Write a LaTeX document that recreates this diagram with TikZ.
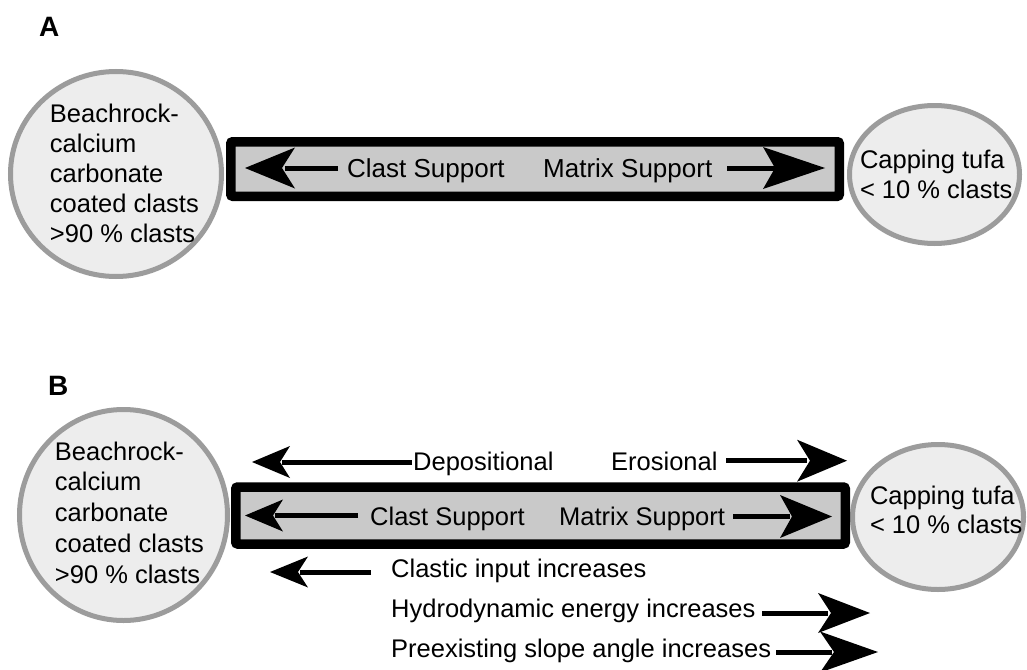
\documentclass[tikz,border=0pt]{standalone}
\usepackage{fontspec}
\setmainfont{Liberation Sans}
\usetikzlibrary{shapes.geometric}
\definecolor{ringgray}{gray}{0.61}
\definecolor{blobfill}{gray}{0.93}
\definecolor{bargray}{gray}{0.79}
\tikzset{
  panel/.style={font=\bfseries\fontsize{28}{30}\selectfont, inner sep=0pt, anchor=base west},
  lbl/.style={font=\fontsize{25.5}{30}\selectfont, inner sep=0pt, anchor=base west},
  lblA/.style={font=\fontsize{26}{30}\selectfont, inner sep=0pt, anchor=base west},
  blob/.style={ellipse, draw=ringgray, line width=5pt, fill=blobfill, inner sep=0pt},
  blobtext/.style={inner sep=0pt, align=left},
  bar/.style={rectangle, draw=black, line width=9.5pt, fill=bargray, rounded corners=2pt, inner sep=0pt},
  shaft/.style={line width=5pt, draw=black}
}
% #1 tip coordinate, #2 direction (1 right, -1 left), #3 length, #4 half width, #5 inset
\newcommand{\myarrowhead}[5]{%
  \fill[black] (#1) -- ++({-(#2)*(#3)},{-(#4)}) -- ++({(#2)*(#5)},{#4})
     -- ++({-(#2)*(#5)},{#4}) -- cycle;}
\begin{document}
\begin{tikzpicture}[x=1pt,y=-1pt]
\useasboundingbox (0,0) rectangle (1027,669);
\fill[white] (0,0) rectangle (1027,669);

% ---------- Panel A ----------
\node[panel] (labA) at (39,37) {A};
\node[blob, minimum width=211pt, minimum height=205pt] (beachA) at (116,174) {};
\node[blobtext, font=\fontsize{25.5}{29.8}\selectfont] (beachAtxt) at (124.4,173.3)
  {Beachrock-\\calcium\\carbonate\\coated clasts\\>90 \% clasts};
\node[blob, minimum width=170pt, minimum height=138pt] (tufaA) at (934.5,174.5) {};
\node[blobtext, font=\fontsize{25.5}{30}\selectfont] (tufaAtxt) at (936.2,174)
  {Capping tufa\\< 10 \% clasts};
\node[bar, minimum width=608.5pt, minimum height=54.5pt] (barA) at (535,169) {};
\node[lblA] (clastA) at (347,177.5) {Clast Support};
\node[lblA] (matrixA) at (543,177.5) {Matrix Support};
\coordinate (aLs) at (338,168);
\coordinate (aLt) at (245,168);
\coordinate (aRs) at (727,168);
\coordinate (aRt) at (825,168);
\draw[shaft, shorten >=40pt] (aLs) -- (aLt);
\myarrowhead{aLt}{-1}{50}{20.5}{13}
\draw[shaft, shorten >=50pt] (aRs) -- (aRt);
\myarrowhead{aRt}{1}{62}{21}{12}

% ---------- Panel B ----------
\node[panel] (labB) at (48,395) {B};
\node[blob, minimum width=208pt, minimum height=211pt] (beachB) at (123.5,515) {};
\node[blobtext, font=\fontsize{25.5}{30.75}\selectfont] (beachBtxt) at (129.4,512.6)
  {Beachrock-\\calcium\\carbonate\\coated clasts\\>90 \% clasts};
\node[blob, minimum width=171pt, minimum height=145pt] (tufaB) at (938,517) {};
\node[blobtext, font=\fontsize{25.5}{29}\selectfont] (tufaBtxt) at (946.2,509.6)
  {Capping tufa\\< 10 \% clasts};
\node[bar, minimum width=609.5pt, minimum height=57pt] (barB) at (540.5,515.5) {};
\node[lbl] (clastB) at (370,525.5) {Clast Support};
\node[lbl] (matrixB) at (559,525.5) {Matrix Support};
\node[lbl] (depo) at (413,470.5) {Depositional};
\node[lbl] (eros) at (611,470.5) {Erosional};
\node[lbl] (clastic) at (391,577) {Clastic input increases};
\node[lbl] (hydro) at (391,617) {Hydrodynamic energy increases};
\node[lbl] (slope) at (391,657) {Preexisting slope angle increases};

\coordinate (dS) at (412,462);
\coordinate (dT) at (252,462);
\coordinate (eS) at (726,460.7);
\coordinate (eT) at (847,460.7);
\coordinate (bLs) at (358,515.5);
\coordinate (bLt) at (245,515.5);
\coordinate (bRs) at (733,516.5);
\coordinate (bRt) at (832,516.5);
\coordinate (cS) at (371,572);
\coordinate (cT) at (270,572);
\coordinate (hS) at (762,613);
\coordinate (hT) at (870,613);
\coordinate (pS) at (776,652);
\coordinate (pT) at (878,652);

\draw[shaft, shorten >=30pt] (dS) -- (dT);
\myarrowhead{dT}{-1}{38}{16}{10}
\draw[shaft, shorten >=40pt] (eS) -- (eT);
\myarrowhead{eT}{1}{50}{21}{13}
\draw[shaft, shorten >=30pt] (bLs) -- (bLt);
\myarrowhead{bLt}{-1}{38}{16}{10}
\draw[shaft, shorten >=42pt] (bRs) -- (bRt);
\myarrowhead{bRt}{1}{52}{21.5}{12}
\draw[shaft, shorten >=30pt] (cS) -- (cT);
\myarrowhead{cT}{-1}{38}{15.5}{10}
\draw[shaft, shorten >=42pt] (hS) -- (hT);
\myarrowhead{hT}{1}{52}{20}{13}
\draw[shaft, shorten >=46pt] (pS) -- (pT);
\myarrowhead{pT}{1}{58}{20.5}{14}
\end{tikzpicture}
\end{document}
